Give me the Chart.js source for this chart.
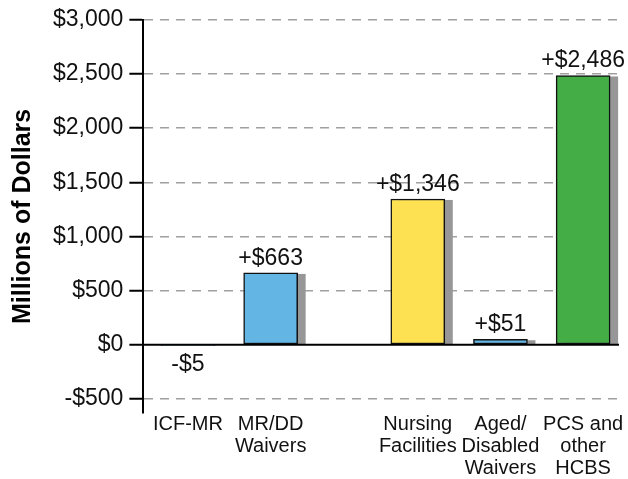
<!DOCTYPE html>
<html>
<head>
<meta charset="utf-8">
<script src="https://cdn.jsdelivr.net/npm/chart.js@4.4.1/dist/chart.umd.min.js"></script>
<style>
  html, body { margin: 0; padding: 0; background: #fff; }
  #wrap { width: 628px; height: 479px; }
</style>
</head>
<body>
<div id="wrap"><canvas id="c"></canvas></div>
<script>
// Change in spending, millions of dollars
const labels = [['ICF-MR'], ['MR/DD', 'Waivers'], ['Nursing', 'Facilities'], ['Aged/', 'Disabled', 'Waivers'], ['PCS and', 'other', 'HCBS']];
const slots = [0, 1, 2.78, 3.78, 4.78];   // category position along x (gap after MR/DD)
const values = [-5, 663, 1346, 51, 2486];
const colors = ['#63b5e4', '#63b5e4', '#fde152', '#63b5e4', '#44ad46'];
const yTicks = [-500, 0, 500, 1000, 1500, 2000, 2500, 3000];

const FONT = '"Liberation Sans", Arial, Helvetica, sans-serif';

const fmtMoney = v => (v < 0 ? '-$' : '$') + Math.abs(v).toLocaleString('en-US');
const fmtDelta = v => (v < 0 ? '-$' : '+$') + Math.abs(v).toLocaleString('en-US');

// gray drop shadow to the right of each bar
const shadowPlugin = {
  id: 'shadow',
  beforeDatasetsDraw(chart) {
    const ctx = chart.ctx;
    const meta = chart.getDatasetMeta(0);
    ctx.save();
    ctx.fillStyle = '#979797';
    meta.data.forEach((bar, i) => {
      if (values[i] <= 0) return;
      const { x, y, base, width } = bar.getProps(['x', 'y', 'base', 'width'], true);
      ctx.fillRect(x - width / 2 + 8, y + 1, width, base - y - 1);
    });
    ctx.restore();
  }
};

// zero line + value labels
const labelPlugin = {
  id: 'vals',
  afterDatasetsDraw(chart) {
    const { ctx, chartArea, scales } = chart;
    const y0 = scales.y.getPixelForValue(0);
    ctx.save();
    ctx.strokeStyle = '#000';
    ctx.lineWidth = 2;
    ctx.beginPath();
    ctx.moveTo(chartArea.left, y0);
    ctx.lineTo(chartArea.right + 2, y0);
    ctx.stroke();

    ctx.fillStyle = '#111';
    ctx.font = '23px ' + FONT;
    ctx.textAlign = 'center';
    const meta = chart.getDatasetMeta(0);
    meta.data.forEach((bar, i) => {
      const { x, y, base } = bar.getProps(['x', 'y', 'base'], true);
      if (values[i] >= 0) {
        ctx.textBaseline = 'alphabetic';
        ctx.fillText(fmtDelta(values[i]), x, y - 8);
      } else {
        ctx.textBaseline = 'top';
        ctx.fillText(fmtDelta(values[i]), x, base + 8);
      }
    });
    ctx.restore();
  }
};

new Chart(document.getElementById('c'), {
  type: 'bar',
  data: {
    datasets: [{
      data: values.map((v, i) => ({ x: slots[i], y: v })),
      backgroundColor: colors,
      borderColor: '#111',
      borderWidth: 1.5,
      borderSkipped: false,
      barThickness: 54,
    }],
  },
  options: {
    responsive: true,
    maintainAspectRatio: false,
    animation: false,
    layout: { padding: { top: 9, right: 11, left: 8, bottom: 0 } },
    plugins: {
      legend: { display: false },
      tooltip: { enabled: false },
    },
    scales: {
      x: {
        type: 'linear',
        offset: false,
        min: -0.54,
        max: 5.19,
        afterBuildTicks: axis => { axis.ticks = slots.map(v => ({ value: v })); },
        ticks: {
          autoSkip: false,
          maxRotation: 0,
          color: '#111',
          font: { family: FONT, size: 20, lineHeight: 1.1 },
          padding: 0,
          callback: (v, i) => labels[i],
        },
        grid: { display: false, drawTicks: false },
        border: { display: false },
      },
      y: {
        min: -630,
        max: 3000,
        afterBuildTicks: axis => { axis.ticks = yTicks.map(v => ({ value: v })); },
        ticks: {
          color: '#111',
          font: { family: FONT, size: 23 },
          padding: 6,
          callback: v => fmtMoney(v),
        },
        grid: {
          color: ctx => (ctx.tick && ctx.tick.value === 0 ? 'rgba(0,0,0,0)' : '#a0a0a0'),
          lineWidth: 1.5,
          tickColor: '#000',
          tickLength: 14,
          tickWidth: 2,
          tickBorderDash: [],
        },
        border: { display: true, color: '#000', width: 2, dash: [9, 7] },
        title: {
          display: true,
          text: 'Millions of Dollars',
          color: '#000',
          font: { family: FONT, size: 25, weight: 'bold' },
          padding: { top: 0, bottom: 9 },
        },
      },
    },
  },
  plugins: [shadowPlugin, labelPlugin],
});
</script>
</body>
</html>
